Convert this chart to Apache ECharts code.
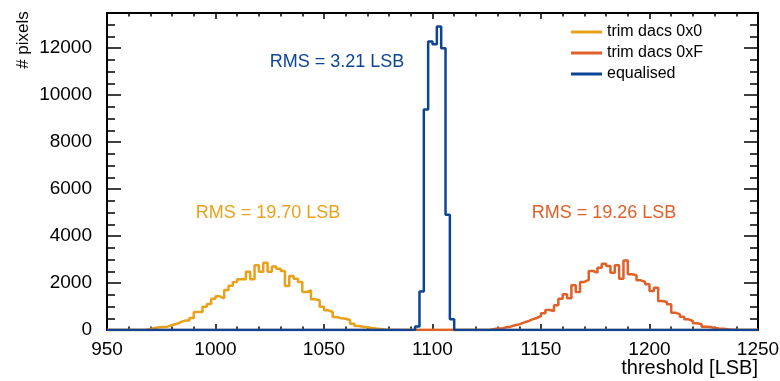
<!DOCTYPE html>
<html>
<head>
	<meta http-equiv="Content-Type" content="text/html; charset=UTF-8">
	<title>threshold equalisation</title>
	<script src="https://cdn.jsdelivr.net/npm/echarts@6/dist/echarts.min.js"></script>
</head>
<body style="margin:0;">

	<div id="main" style="width: 780px;height:381px;"></div>

	<script>
		// histogram bins, 2 LSB wide, value = first bin lower edge
		var binWidth = 2;
		var xMin = 950;
		var xMax = 1250;

		var seriesNames = ['trim dacs 0x0', 'trim dacs 0xF', 'equalised'];
		var rmsLabels = ['RMS = 19.70 LSB', 'RMS = 19.26 LSB', 'RMS = 3.21 LSB'];

		var trim0Start = 968;
		var trim0Counts = [40, 85, 114, 128, 142, 213, 256, 340, 400, 400,
			511, 767, 767, 994, 1108, 1335, 1434, 1349, 1704, 1889,
			2045, 2158, 2158, 2485, 2158, 2755, 2485, 2868, 2485, 2700,
			2613, 2513, 1874, 2300, 2187, 2045, 1619, 1690, 1306, 1264,
			994, 838, 767, 554, 497, 480, 426, 270, 170, 140,
			114, 85, 60, 40, 20, 10];

		var trimFStart = 1126;
		var trimFCounts = [30, 60, 60, 114, 142, 200, 240, 312, 370, 454,
			511, 596, 710, 852, 809, 1050, 1335, 1520, 1349, 1903,
			1619, 2045, 2130, 2513, 2442, 2655, 2826, 2726, 2442, 2755,
			2187, 2960, 2371, 2330, 2116, 2045, 1945, 1661, 1803, 1235,
			1193, 1093, 738, 667, 568, 454, 383, 284, 241, 142,
			128, 85, 60, 50, 30, 15, 8];

		var eqStart = 1092;
		var eqCounts = [150, 1636, 9394, 12284, 12172, 12925, 11999, 4910, 456];

		var colors = ['#e8a11a', '#e0602a', '#0c4596'];

		// step line points for a histogram, zero outside the filled bins
		function histPoints(start, counts) {
			var pts = [[xMin, 0]];
			for (var i = 0; i < counts.length; i++) {
				pts.push([start + i * binWidth, counts[i]]);
			}
			pts.push([start + counts.length * binWidth, 0]);
			pts.push([xMax, 0]);
			return pts;
		}

		var chartDom = document.getElementById('main');
		var myChart = echarts.init(chartDom);
		var option;

		var fontFam = '"Liberation Sans", Helvetica, Arial, sans-serif';

		function plainNum(v) {
			return String(v);
		}

		function yAx(pos, interval, tickLen, withLabel, withLine) {
			return {
				type: 'value',
				position: pos,
				min: 0,
				max: 13500,
				interval: interval,
				splitLine: { show: false },
				axisLine: { show: withLine, lineStyle: { color: '#000', width: 2 } },
				axisTick: { show: true, inside: true, length: tickLen, lineStyle: { color: '#000', width: 1.5 } },
				axisLabel: {
					show: withLabel,
					showMaxLabel: false,
					formatter: plainNum,
					margin: 15,
					color: '#000',
					fontSize: 19,
					fontFamily: fontFam
				}
			};
		}

		function xAx(pos, withLabel) {
			return {
				type: 'value',
				position: pos,
				min: xMin,
				max: xMax,
				interval: 50,
				splitLine: { show: false },
				axisLine: { show: true, onZero: false, lineStyle: { color: '#000', width: 2 } },
				axisTick: { show: true, inside: true, length: 6, lineStyle: { color: '#000', width: 1.5 } },
				minorTick: { show: true, splitNumber: 5, length: 3.5, lineStyle: { color: '#000', width: 1.5 } },
				axisLabel: {
					show: withLabel,
					formatter: plainNum,
					margin: 10,
					color: '#000',
					fontSize: 19,
					fontFamily: fontFam
				}
			};
		}

		var bottomAxis = xAx('bottom', true);
		bottomAxis.name = 'threshold [LSB]';
		bottomAxis.nameLocation = 'end';
		bottomAxis.nameGap = 0;
		bottomAxis.nameMoveOverlap = false;
		bottomAxis.nameTextStyle = {
			align: 'right',
			verticalAlign: 'top',
			padding: [28, 0, 0, 0],
			color: '#000',
			fontSize: 20,
			fontFamily: fontFam
		};

		var allData = [
			histPoints(trim0Start, trim0Counts),
			histPoints(trimFStart, trimFCounts),
			histPoints(eqStart, eqCounts)
		];

		var series = [];
		for (var s = 0; s < 3; s++) {
			series.push({
				name: seriesNames[s],
				type: 'line',
				step: 'end',
				xAxisIndex: 0,
				yAxisIndex: 0,
				symbol: 'none',
				data: allData[s],
				lineStyle: { color: colors[s], width: 2.5 },
				itemStyle: { color: colors[s] }
			});
		}

		option = {
			animation: false,
			backgroundColor: '#fff',
			grid: { left: 107, right: 22, top: 13, bottom: 51, containLabel: false, outerBoundsMode: 'none' },
			legend: {
				data: seriesNames,
				orient: 'vertical',
				left: 566,
				top: 19,
				icon: 'rect',
				itemWidth: 31,
				itemHeight: 3,
				itemGap: 5,
				textStyle: { color: '#000', fontSize: 16, lineHeight: 16, fontFamily: fontFam }
			},
			xAxis: [bottomAxis, xAx('top', false)],
			yAxis: [
				yAx('left', 2000, 14, true, true),
				yAx('left', 500, 8, false, false),
				yAx('right', 2000, 14, false, true),
				yAx('right', 500, 8, false, false)
			],
			graphic: [
				{
					type: 'text',
					x: 23, y: 40,
					rotation: Math.PI / 2,
					style: { text: '# pixels', fill: '#000', font: '17px ' + fontFam, textAlign: 'center', textVerticalAlign: 'middle' }
				},
				{
					type: 'text',
					x: 268, y: 213,
					style: { text: rmsLabels[0], fill: colors[0], font: '18px ' + fontFam, textAlign: 'center', textVerticalAlign: 'middle' }
				},
				{
					type: 'text',
					x: 604, y: 213,
					style: { text: rmsLabels[1], fill: colors[1], font: '18px ' + fontFam, textAlign: 'center', textVerticalAlign: 'middle' }
				},
				{
					type: 'text',
					x: 337, y: 62,
					style: { text: rmsLabels[2], fill: colors[2], font: '18px ' + fontFam, textAlign: 'center', textVerticalAlign: 'middle' }
				}
			],
			series: series
		};

		option && myChart.setOption(option);
	</script>

</body>
</html>
